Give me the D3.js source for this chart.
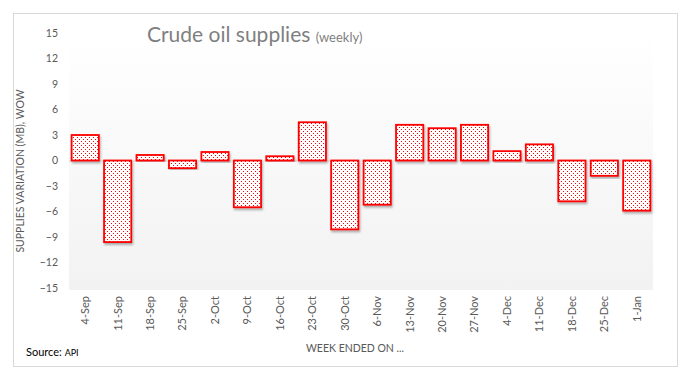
<!DOCTYPE html>
<html>
<head>
<meta charset="utf-8">
<script src="https://cdn.jsdelivr.net/npm/d3@7"></script>
<style>
  body { margin: 0; background: #fff; }
  svg { display: block; font-family: Lato, 'Open Sans', sans-serif; }
</style>
</head>
<body>
<svg id="chart"></svg>
<script>
'use strict'

// weekly crude oil supply changes (million barrels)
const weeks = ['4-Sep', '11-Sep', '18-Sep', '25-Sep', '2-Oct', '9-Oct', '16-Oct', '23-Oct', '30-Oct',
  '6-Nov', '13-Nov', '20-Nov', '27-Nov', '4-Dec', '11-Dec', '18-Dec', '25-Dec', '1-Jan']
const changes = [3.0, -9.6, 0.65, -0.9, 1.0, -5.5, 0.5, 4.5, -8.1,
  -5.2, 4.2, 3.8, 4.2, 1.1, 1.9, -4.8, -1.8, -5.9]
const yTicks = [15, 12, 9, 6, 3, 0, -3, -6, -9, -12, -15]

const width = 697
const height = 382
const margin = { top: 33, right: 44, bottom: 94, left: 69 }

const svg = d3.select('#chart')
  .attr('width', width)
  .attr('height', height)

const defs = svg.append('defs')

const grad = defs.append('linearGradient')
  .attr('id', 'plotBg')
  .attr('x1', 0).attr('y1', 0).attr('x2', 0).attr('y2', 1)
grad.append('stop').attr('offset', '0%').attr('stop-color', '#ffffff')
grad.append('stop').attr('offset', '100%').attr('stop-color', '#f2f2f2')

const dots = defs.append('pattern')
  .attr('id', 'dots')
  .attr('patternUnits', 'userSpaceOnUse')
  .attr('width', 4)
  .attr('height', 4)
dots.append('rect').attr('width', 4).attr('height', 4).attr('fill', '#fff')
dots.append('rect').attr('x', 1).attr('y', 1).attr('width', 1).attr('height', 1).attr('fill', '#ff0000')
dots.append('rect').attr('x', 3).attr('y', 3).attr('width', 1).attr('height', 1).attr('fill', '#ff0000')

const shadow = defs.append('filter')
  .attr('id', 'shadow')
  .attr('x', '-20%').attr('y', '-20%').attr('width', '140%').attr('height', '140%')
shadow.append('feDropShadow')
  .attr('dx', 1).attr('dy', 2).attr('stdDeviation', 1.2)
  .attr('flood-color', '#000').attr('flood-opacity', 0.3)

// outer chart border
svg.append('rect')
  .attr('x', 13.5).attr('y', 13.5)
  .attr('width', 664).attr('height', 353)
  .attr('fill', '#fff')
  .attr('stroke', '#d9d9d9')

const x = d3.scaleBand()
  .domain(weeks)
  .range([margin.left, width - margin.right])
  .paddingInner(0.1)
  .paddingOuter(0.05)

const y = d3.scaleLinear()
  .domain([-15, 15])
  .range([height - margin.bottom, margin.top])

// plot area background
svg.append('rect')
  .attr('x', margin.left)
  .attr('y', y(15))
  .attr('width', width - margin.right - margin.left)
  .attr('height', y(-15) - y(15) + 2)
  .attr('fill', 'url(#plotBg)')

// zero line
svg.append('line')
  .attr('x1', margin.left)
  .attr('x2', width - margin.right)
  .attr('y1', y(0) + 0.5)
  .attr('y2', y(0) + 0.5)
  .attr('stroke', '#d9d9d9')

// y axis
const yAxis = svg.append('g')
  .attr('transform', `translate(${margin.left - 11},0)`)
  .call(d3.axisLeft(y).tickValues(yTicks).tickSize(0).tickPadding(0))
yAxis.select('.domain').remove()
yAxis.selectAll('text')
  .attr('fill', '#595959')
  .attr('font-size', 10.5)
  .attr('font-family', 'Lato, sans-serif')

// x axis labels
const xAxis = svg.append('g')
  .attr('transform', `translate(0,${y(-15) + 8})`)
  .call(d3.axisBottom(x).tickSize(0).tickPadding(0))
xAxis.select('.domain').remove()
xAxis.selectAll('text')
  .attr('transform', 'rotate(-90)')
  .attr('text-anchor', 'end')
  .attr('dy', '0.35em')
  .attr('x', 0)
  .attr('y', 0)
  .attr('fill', '#595959')
  .attr('font-size', 11)
  .attr('font-family', 'Lato, sans-serif')

// bars
svg.append('g')
  .selectAll('rect')
  .data(changes)
  .join('rect')
  .attr('x', (d, i) => x(weeks[i]) + 1)
  .attr('width', x.bandwidth() - 2)
  .attr('y', d => y(Math.max(0, d)))
  .attr('height', d => Math.abs(y(d) - y(0)))
  .attr('fill', 'url(#dots)')
  .attr('stroke', '#ff0000')
  .attr('stroke-width', 1.8)
  .attr('filter', 'url(#shadow)')

// title
const title = svg.append('text')
  .attr('x', 147)
  .attr('y', 42)
  .attr('fill', '#7f7f7f')
  .attr('font-size', 21)
title.append('tspan').text('Crude oil supplies ')
title.append('tspan').attr('font-size', 13).text('(weekly)')

// axis titles
svg.append('text')
  .attr('transform', `translate(24,171) rotate(-90)`)
  .attr('text-anchor', 'middle')
  .attr('fill', '#595959')
  .attr('font-size', 10.5)
  .text('SUPPLIES VARIATION (MB), WOW')

svg.append('text')
  .attr('x', 355)
  .attr('y', 352)
  .attr('text-anchor', 'middle')
  .attr('fill', '#595959')
  .attr('font-size', 10.5)
  .text('WEEK ENDED ON ...')

const source = svg.append('text')
  .attr('x', 26)
  .attr('y', 356)
  .attr('fill', '#000')
  .attr('font-size', 11)
source.append('tspan').text('Source: ')
source.append('tspan').attr('font-size', 9).text('API')
</script>
</body>
</html>
